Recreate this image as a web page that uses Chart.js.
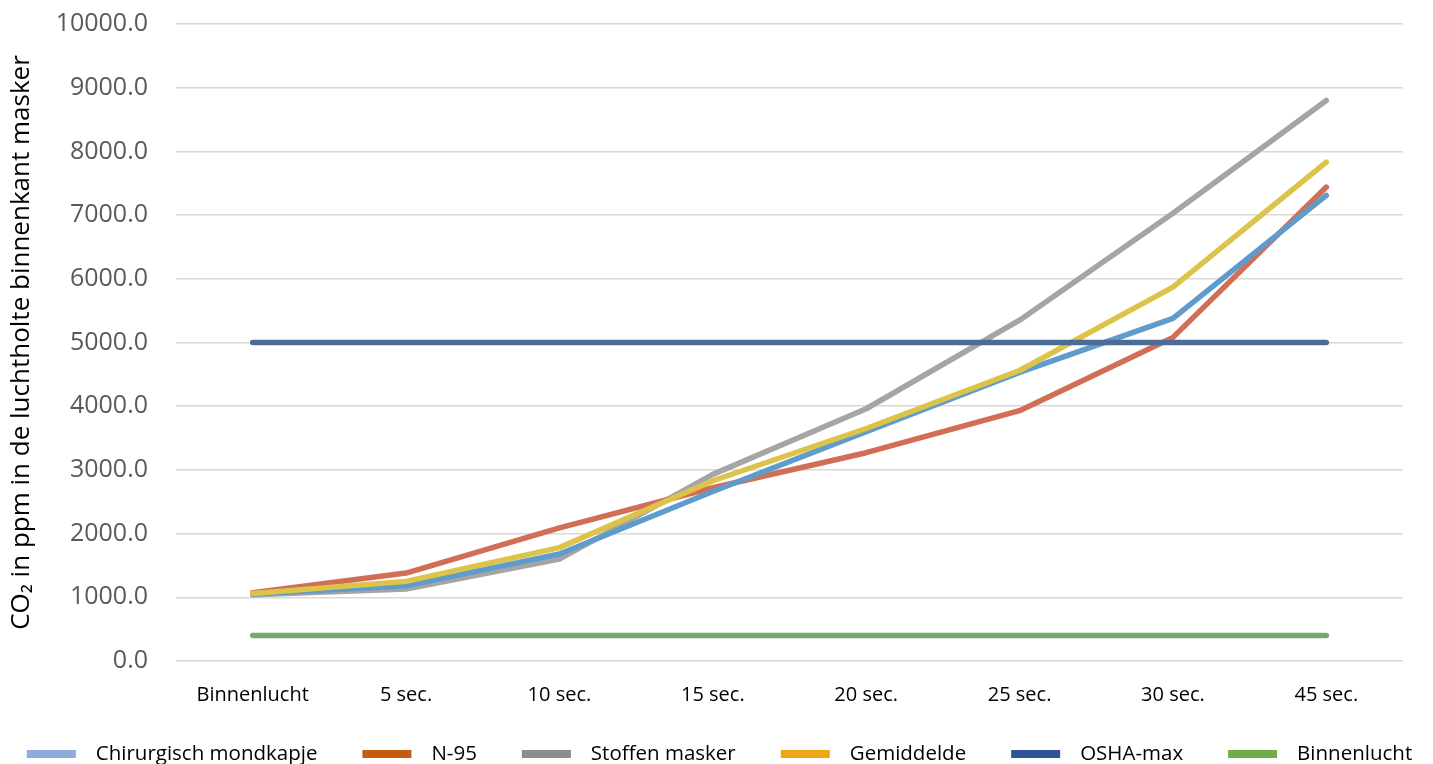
<!DOCTYPE html>
<html>
<head>
<meta charset="utf-8">
<script src="https://cdn.jsdelivr.net/npm/chart.js@4.4.1/dist/chart.umd.min.js"></script>
<style>
  html, body { margin: 0; padding: 0; background: #fff; overflow: hidden; }
  #wrap { width: 1433px; height: 764px; }
</style>
</head>
<body>
<div id="wrap"><canvas id="myChart"></canvas></div>
<script>
// categories on the x axis
const labels = ['Binnenlucht', '5 sec.', '10 sec.', '15 sec.', '20 sec.', '25 sec.', '30 sec.', '45 sec.'];

// CO2 in ppm
const chirurgisch = [1050, 1180, 1680, 2660, 3600, 4530, 5380, 7310];
const n95         = [1070, 1380, 2090, 2720, 3270, 3930, 5080, 7440];
const stoffen     = [1040, 1130, 1600, 2930, 3960, 5350, 7030, 8800];
const gemiddelde  = [1060, 1250, 1780, 2830, 3650, 4560, 5870, 7830];
const oshaMax     = [5000, 5000, 5000, 5000, 5000, 5000, 5000, 5000];
const binnenlucht = [400, 400, 400, 400, 400, 400, 400, 400];

const seriesNames = ['Chirurgisch mondkapje', 'N-95', 'Stoffen masker', 'Gemiddelde', 'OSHA-max', 'Binnenlucht'];
// line colours as they show in the plot
const lineColors = ['#5f9ccc', '#d26e55', '#a5a5a5', '#dcc44a', '#4a6c96', '#78a76f'];
// legend swatch colours
const legendColors = ['#8faadc', '#c55a11', '#8c8c8c', '#f2a418', '#2f5597', '#70ad47'];
// drawing order (lower = on top)
const drawOrder = [3, 4, 5, 2, 1, 0];

const allValues = [chirurgisch, n95, stoffen, gemiddelde, oshaMax, binnenlucht];

const datasets = [];
for (let i = 0; i < seriesNames.length; i++) {
  datasets.push({
    label: seriesNames[i],
    data: allValues[i],
    borderColor: lineColors[i],
    backgroundColor: lineColors[i],
    borderWidth: 5.5,
    borderCapStyle: 'round',
    borderJoinStyle: 'round',
    pointRadius: 0,
    tension: 0,
    order: drawOrder[i]
  });
}

// legend row under the x labels: swatch, gap, text, bigger gap between items
const bottomLegend = {
  id: 'bottomLegend',
  afterDraw(chart) {
    const ctx = chart.ctx;
    const boxW = 49, boxH = 8, textGap = 20, itemGap = 45;
    ctx.save();
    ctx.font = '20.5px "Open Sans"';
    ctx.textBaseline = 'middle';
    ctx.textAlign = 'left';
    const widths = chart.data.datasets.map(ds => boxW + textGap + ctx.measureText(ds.label).width);
    const total = widths.reduce((a, b) => a + b, 0) + itemGap * (widths.length - 1);
    let x = (chart.width - total) / 2 + 3;
    const y = chart.chartArea.bottom + 93;
    chart.data.datasets.forEach((ds, i) => {
      ctx.fillStyle = legendColors[i];
      ctx.fillRect(x, y - boxH / 2, boxW, boxH);
      ctx.fillStyle = '#000';
      ctx.fillText(ds.label, x + boxW + textGap, y);
      x += widths[i] + itemGap;
    });
    ctx.restore();
  }
};

const config = {
  type: 'line',
  data: { labels: labels, datasets: datasets },
  options: {
    responsive: true,
    maintainAspectRatio: false,
    animation: false,
    layout: { padding: { top: 24, right: 30, left: 0, bottom: 35 } },
    plugins: {
      tooltip: { enabled: false },
      legend: { display: false }
    },
    scales: {
      x: {
        offset: true,
        grid: { display: false, drawTicks: false },
        border: { display: false },
        ticks: {
          color: '#000',
          padding: 22,
          maxRotation: 0,
          font: { family: 'Open Sans', size: 20 }
        }
      },
      y: {
        min: 0,
        max: 10000,
        border: { display: false },
        grid: { color: '#d9d9d9', lineWidth: 1.5, drawTicks: true, tickLength: 28, tickColor: 'rgba(0,0,0,0)' },
        ticks: {
          stepSize: 1000,
          color: '#595959',
          padding: 0,
          font: { family: 'Open Sans', size: 25 },
          callback: function (v) { return v.toFixed(1); }
        },
        title: {
          display: true,
          text: 'CO₂ in ppm in de luchtholte binnenkant masker',
          color: '#000',
          padding: { top: 6, bottom: 0 },
          font: { family: 'Open Sans', size: 26 }
        },
        afterFit: function (axis) { axis.width = 176; }
      }
    }
  },
  plugins: [bottomLegend]
};

const myChart = new Chart(document.getElementById('myChart'), config);
</script>
</body>
</html>
